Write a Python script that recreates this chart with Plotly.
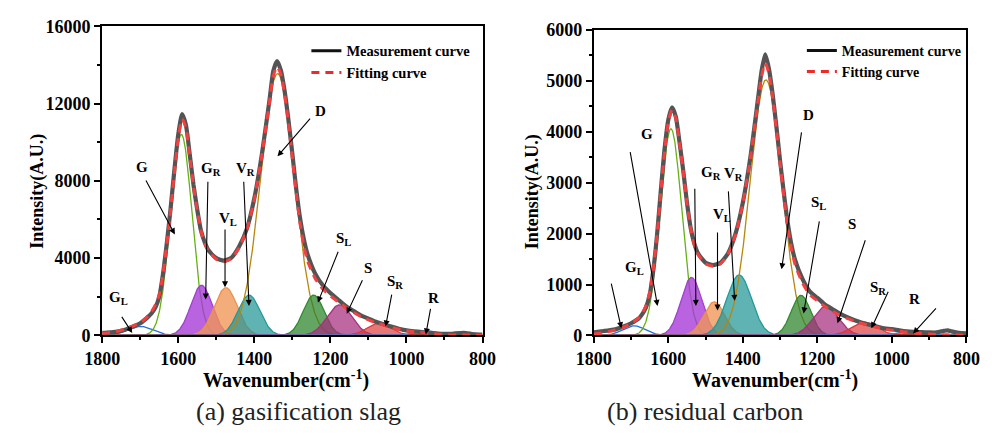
import numpy as np
import plotly.graph_objects as go

# ---------------- data ----------------
wavenumber = [1800, 1780, 1760, 1740, 1720, 1700, 1680, 1670, 1660, 1650, 1640, 1630, 1620, 1610,
              1600, 1590, 1580, 1570, 1560, 1550, 1540, 1530, 1520, 1500, 1480, 1460, 1440, 1420,
              1400, 1380, 1360, 1350, 1340, 1330, 1320, 1310, 1300, 1290, 1280, 1270, 1260, 1240,
              1220, 1200, 1180, 1160, 1140, 1120, 1100, 1080, 1060, 1040, 1020, 1000, 980, 960,
              940, 920, 900, 880, 860, 850, 840, 820, 800]

meas_a = [130, 160, 200, 300, 460, 630, 950, 1150, 1450, 2000, 3200, 4800, 6600, 8600,
          10400, 11450, 10900, 9400, 7800, 6500, 5400, 4800, 4400, 4000, 3870, 4030, 4600, 5500,
          7100, 9400, 12200, 13700, 14200, 13700, 12600, 11100, 9400, 7600, 6100, 5000, 4200, 3200,
          2600, 2200, 1860, 1530, 1280, 1040, 870, 710, 580, 460, 350, 260, 210, 180,
          130, 100, 80, 90, 120, 140, 110, 60, 50]
fit_a = [100, 150, 220, 330, 480, 650, 1000, 1250, 1600, 2100, 3200, 4750, 6500, 8450,
         10200, 11200, 10750, 9300, 7750, 6450, 5400, 4750, 4350, 3950, 3820, 3980, 4550, 5450,
         7050, 9350, 12100, 13450, 13900, 13500, 12450, 10950, 9200, 7400, 5800, 4650, 3850, 2950,
         2400, 2050, 1750, 1450, 1200, 980, 810, 660, 540, 420, 320, 240, 190, 160,
         110, 70, 45, 30, 25, 22, 20, 15, 10]

meas_b = [60, 80, 100, 125, 175, 240, 330, 420, 550, 800, 1300, 2000, 2860, 3670,
          4240, 4480, 4300, 3800, 3240, 2610, 2110, 1800, 1610, 1430, 1380, 1430, 1610, 1990,
          2610, 3490, 4610, 5180, 5520, 5240, 4740, 4110, 3430, 2800, 2240, 1800, 1490, 1110,
          860, 740, 610, 520, 430, 360, 300, 250, 210, 175, 140, 125, 100, 80,
          70, 65, 60, 60, 90, 100, 80, 50, 40]
fit_b = [30, 50, 75, 110, 165, 235, 340, 440, 590, 850, 1320, 2000, 2830, 3620,
         4200, 4430, 4270, 3780, 3220, 2600, 2100, 1780, 1590, 1410, 1360, 1410, 1590, 1970,
         2600, 3470, 4560, 5080, 5350, 5150, 4680, 4060, 3380, 2740, 2160, 1720, 1400, 1030,
         800, 680, 570, 480, 400, 335, 280, 235, 195, 160, 125, 105, 85, 65,
         50, 40, 30, 20, 15, 12, 10, 8, 5]

# Gaussian band deconvolution results (centre cm-1, height, FWHM cm-1)
band_names = ["GL", "G", "GR", "VL", "VR", "D", "SL", "S", "SR", "R"]
centers_a = [1700, 1592, 1539, 1475, 1414, 1339, 1244, 1176, 1072, 949]
heights_a = [470, 10400, 2600, 2470, 2090, 13550, 2090, 1580, 630, 250]
fwhm_a = [78, 66, 66, 71, 68, 104, 64, 78, 75, 71]
centers_b = [1692, 1593, 1538, 1477, 1410, 1338, 1244, 1177, 1073, 947]
heights_b = [190, 4060, 1140, 660, 1190, 5020, 790, 570, 260, 80]
fwhm_b = [71, 68, 66, 66, 78, 99, 61, 80, 82, 82]

band_labels = ["G<sub>L</sub>", "G", "G<sub>R</sub>", "V<sub>L</sub>", "V<sub>R</sub>", "D",
               "S<sub>L</sub>", "S", "S<sub>R</sub>", "R"]

x_ticks = [1800, 1600, 1400, 1200, 1000, 800]
y_ticks_a = [0, 4000, 8000, 12000, 16000]
y_ticks_b = [0, 1000, 2000, 3000, 4000, 5000, 6000]

# ---------------- styles ----------------
band_line = {"GL": "#2a6fdc", "G": "#66b014", "GR": "#a040d0", "VL": "#f0904a", "VR": "#1f9a9a",
             "D": "#b8860b", "SL": "#2e8b2e", "S": "#a8307e", "SR": "#d83a3a", "R": "#4a80d0"}
band_fill = {"GL": None, "G": None, "GR": "rgba(165,55,215,0.78)", "VL": "rgba(240,150,85,0.78)",
             "VR": "rgba(35,150,150,0.72)", "D": None, "SL": "rgba(40,130,40,0.72)",
             "S": "rgba(165,45,125,0.72)", "SR": "rgba(220,55,55,0.68)", "R": "rgba(140,25,25,0.55)"}

# annotation placement: label (x, y) and arrow tail -> tip, per panel
label_pos_a = [(1757, 1940), (1696, 8700), (1515, 8600), (1469, 6000), (1424, 8600), (1226, 11600),
               (1166, 5000), (1101, 3500), (1031, 2750), (929, 1940)]
arrows_a = [((1751, 1040), (1721, 130)), ((1687, 8100), (1609, 5230)), ((1522, 8030), (1528, 1860)),
            ((1477, 5560), (1477, 2490)), ((1428, 8030), (1414, 1530)), ((1250, 11300), (1339, 9270)),
            ((1178, 4410), (1233, 1700)), ((1114, 2930), (1157, 1120)), ((1038, 2190), (1055, 460)),
            ((936, 1450), (949, 50))]
label_pos_b = [(1690, 1330), (1657, 3960), (1486, 3200), (1426, 3180), (1456, 2360), (1224, 4330),
               (1198, 2610), (1107, 2180), (1036, 930), (939, 710)]
label_order_b = [0, 1, 2, 4, 3, 5, 6, 7, 8, 9]
arrows_b = [((1754, 1050), (1726, 140)), ((1703, 3630), (1629, 580)), ((1529, 2910), (1526, 580)),
            ((1468, 2050), (1468, 490)), ((1439, 2860), (1422, 680)), ((1242, 4020), (1296, 1300)),
            ((1194, 2270), (1237, 430)), ((1070, 1900), (1146, 240)), ((1008, 890), (1055, 140)),
            ((878, 560), (943, 40))]

W, H = 992, 439
SERIF = "Liberation Serif"

fig = go.Figure()
xg = np.arange(1800, 799, -1.0)


def gauss(c, h, f):
    return h * np.exp(-4 * np.log(2) * (xg - c) ** 2 / f ** 2)


def add_panel(xa, ya, centers, heights, fwhm, meas, fit, legend):
    for i, name in enumerate(band_names):
        y = gauss(centers[i], heights[i], fwhm[i])
        fc = band_fill[name]
        fig.add_trace(go.Scatter(x=xg, y=y, xaxis=xa, yaxis=ya, mode="lines",
                                 line=dict(color=band_line[name], width=1.3),
                                 fill="tozeroy" if fc else None,
                                 fillcolor=fc, showlegend=False, hoverinfo="skip"))
    fig.add_trace(go.Scatter(x=wavenumber, y=meas, xaxis=xa, yaxis=ya, mode="lines",
                             line=dict(color="#545454", width=4.2, shape="spline", smoothing=0.6),
                             showlegend=False))
    fig.add_trace(go.Scatter(x=wavenumber, y=fit, xaxis=xa, yaxis=ya, mode="lines",
                             line=dict(color="#f24040", width=3, dash="8px,6px", shape="spline",
                                       smoothing=0.6),
                             showlegend=False))
    fig.add_trace(go.Scatter(x=[None], y=[None], xaxis=xa, yaxis=ya, mode="lines",
                             line=dict(color="#111111", width=3), name="<b>Measurement curve</b>",
                             legend=legend))
    fig.add_trace(go.Scatter(x=[None], y=[None], xaxis=xa, yaxis=ya, mode="lines",
                             line=dict(color="#f02828", width=3, dash="8px,6px"),
                             name="<b>Fitting curve</b>", legend=legend))


add_panel("x", "y", centers_a, heights_a, fwhm_a, meas_a, fit_a, "legend")
add_panel("x2", "y2", centers_b, heights_b, fwhm_b, meas_b, fit_b, "legend2")

annotations = []


def add_labels(xr, yr, label_pos, order, arrows):
    for k, (lx, ly) in enumerate(label_pos):
        annotations.append(dict(x=lx, y=ly, xref=xr, yref=yr, text="<b>%s</b>" % band_labels[order[k]],
                                showarrow=False, xanchor="center", yanchor="middle",
                                font=dict(family=SERIF, size=15, color="black")))
    for (tx, ty), (hx, hy) in arrows:
        annotations.append(dict(x=hx, y=hy, xref=xr, yref=yr, ax=tx, ay=ty, axref=xr, ayref=yr,
                                text="", showarrow=True, arrowhead=2, arrowsize=1.1,
                                arrowwidth=1.1, arrowcolor="black", standoff=0))


add_labels("x", "y", label_pos_a, list(range(10)), arrows_a)
add_labels("x2", "y2", label_pos_b, label_order_b, arrows_b)

xtfont = dict(family=SERIF, size=20, color="black")
ytfont = dict(family=SERIF, size=18, color="black")
for cx in (277 / W, 782 / W):
    annotations.append(dict(x=cx, y=1 - 387 / H, xref="paper", yref="paper", xanchor="center",
                            yanchor="middle", text="<b>Wavenumber(cm<sup>-1</sup>)</b>",
                            showarrow=False, font=xtfont))
for cx in (20 / W, 531 / W):
    annotations.append(dict(x=cx, y=1 - 190 / H, xref="paper", yref="paper", textangle=-90,
                            xanchor="center", yanchor="middle",
                            text="<b>Intensity(A.U.)</b>", showarrow=False, font=ytfont))
cfont = dict(family=SERIF, size=26, color="#222222")
annotations.append(dict(x=290 / W, y=1 - 421 / H, xref="paper", yref="paper", xanchor="center",
                        yanchor="middle", text="(a) gasification slag", showarrow=False, font=cfont))
annotations.append(dict(x=710 / W, y=1 - 421 / H, xref="paper", yref="paper", xanchor="center",
                        yanchor="middle", text="(b) residual carbon", showarrow=False, font=cfont))

tickfont = dict(family=SERIF, size=18, color="black")
axis_common = dict(showline=True, linecolor="black", linewidth=2, mirror=True, ticks="outside",
                   ticklen=6, tickwidth=2, tickcolor="black", showgrid=False, zeroline=False,
                   tickfont=tickfont)


def bold(vals):
    return ["<b>%d</b>" % v for v in vals]


minor_x = dict(dtick=100, ticklen=3, tickwidth=2, tickcolor="black", ticks="outside")

fig.update_layout(
    width=W, height=H, margin=dict(l=0, r=0, t=0, b=0),
    paper_bgcolor="white", plot_bgcolor="white",
    xaxis=dict(domain=[87 / W, 480 / W], range=[1800, 800], tickvals=x_ticks, ticktext=bold(x_ticks),
               minor=minor_x, anchor="y", **axis_common),
    yaxis=dict(domain=[1 - 341 / H, 1 - 17 / H], range=[0, 16000],
               tickvals=y_ticks_a, ticktext=bold(y_ticks_a),
               minor=dict(dtick=2000, ticklen=3, tickwidth=2, tickcolor="black", ticks="outside"),
               anchor="x", **axis_common),
    xaxis2=dict(domain=[595 / W, 980 / W], range=[1800, 800], tickvals=x_ticks, ticktext=bold(x_ticks),
                minor=minor_x, anchor="y2", **axis_common),
    yaxis2=dict(domain=[1 - 341 / H, 1 - 21 / H], range=[0, 6000],
                tickvals=y_ticks_b, ticktext=bold(y_ticks_b),
                minor=dict(dtick=500, ticklen=3, tickwidth=2, tickcolor="black", ticks="outside"),
                anchor="x2", **axis_common),
    legend=dict(x=298 / W, y=1 - 26 / H, xanchor="left", yanchor="top", bgcolor="rgba(0,0,0,0)",
                font=dict(family=SERIF, size=14.5, color="black"), tracegroupgap=0),
    legend2=dict(x=810 / W, y=1 - 26 / H, xanchor="left", yanchor="top", bgcolor="rgba(0,0,0,0)",
                 font=dict(family=SERIF, size=14, color="black"), tracegroupgap=0),
    annotations=annotations,
    showlegend=True,
)

fig.write_html("out.html")
